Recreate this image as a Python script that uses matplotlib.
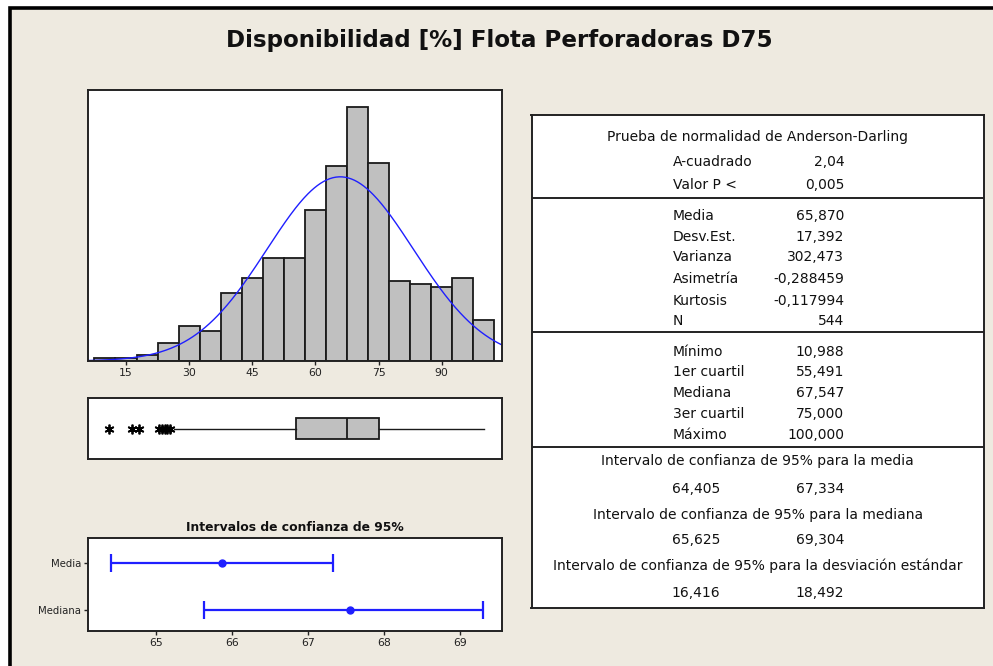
import matplotlib
matplotlib.use("Agg")
import numpy as np
import matplotlib.pyplot as plt
from matplotlib.patches import Rectangle

BG = "#EEEAE0"
W, H = 993, 666

# --- data ---
bin_centers = [10, 15, 20, 25, 30, 35, 40, 45, 50, 55, 60, 65, 70, 75, 80, 85, 90, 95, 100]
bin_counts = [1, 1, 2, 6, 12, 10, 23, 28, 35, 35, 51, 66, 86, 67, 27, 26, 25, 28, 14]
bin_width = 5
hist_ticks = [15, 30, 45, 60, 75, 90]

mean, std, n = 65.870, 17.392, 544
q1, median, q3 = 55.491, 67.547, 75.000
whisker_lo, whisker_hi = 26.5, 100.0
outliers = [10.988, 16.4, 18.2, 22.9, 23.6, 24.2, 24.8, 25.5]

ci_labels = ["Media", "Mediana"]
ci_center = [65.870, 67.547]
ci_low = [64.405, 65.625]
ci_high = [67.334, 69.304]
ci_ticks = [65, 66, 67, 68, 69]

ad_rows = [("A-cuadrado", "2,04"), ("Valor P <", "0,005")]
moment_rows = [("Media", "65,870"), ("Desv.Est.", "17,392"), ("Varianza", "302,473"),
               ("Asimetría", "-0,288459"), ("Kurtosis", "-0,117994"), ("N", "544")]
quart_rows = [("Mínimo", "10,988"), ("1er cuartil", "55,491"), ("Mediana", "67,547"),
              ("3er cuartil", "75,000"), ("Máximo", "100,000")]
ci_rows = [("Intervalo de confianza de 95% para la media", "64,405", "67,334"),
           ("Intervalo de confianza de 95% para la mediana", "65,625", "69,304"),
           ("Intervalo de confianza de 95% para la desviación estándar", "16,416", "18,492")]


def px_axes(l, t, r, b):
    return [l / W, 1 - b / H, (r - l) / W, (b - t) / H]


def style_spines(ax):
    for s in ax.spines.values():
        s.set_linewidth(1.4)
        s.set_color("#222222")


fig = plt.figure(figsize=(W / 100, H / 100), dpi=100)
fig.patch.set_facecolor("white")
fig.add_artist(Rectangle((9.5 / W, -0.1), 1.2, 1.1 - 8.5 / H, transform=fig.transFigure,
                         facecolor=BG, edgecolor="black", lw=2.6, zorder=-5))

fig.text(0.503, 1 - 40 / H, "Disponibilidad [%] Flota Perforadoras D75",
         ha="center", va="center", fontsize=16.6, fontweight="bold", color="#111111")

# --- histogram with fitted normal ---
xlo, xhi = 5.97, 104.3
ax = fig.add_axes(px_axes(88, 90, 502, 361))
ax.bar(bin_centers, bin_counts, width=bin_width, color="#C0C0C0", edgecolor="#1a1a1a", lw=1.3)
xs = np.linspace(xlo, xhi, 400)
pdf = n * bin_width * np.exp(-0.5 * ((xs - mean) / std) ** 2) / (std * np.sqrt(2 * np.pi))
ax.plot(xs, pdf, color="#1f1fff", lw=1.0)
ax.set_xlim(xlo, xhi)
ax.set_ylim(0, 91.8)
ax.set_xticks(hist_ticks)
ax.set_yticks([])
ax.tick_params(axis="x", labelsize=7.8, length=3, width=1, colors="#222222", pad=2)
style_spines(ax)

# --- boxplot ---
axb = fig.add_axes(px_axes(88, 398, 502, 459))
stats = [dict(med=median, q1=q1, q3=q3, whislo=whisker_lo, whishi=whisker_hi, fliers=outliers)]
axb.bxp(stats, positions=[0.5], widths=0.36, orientation="horizontal", showcaps=False,
        patch_artist=True,
        boxprops=dict(facecolor="#C0C0C0", edgecolor="#1a1a1a", lw=1.3),
        medianprops=dict(color="#1a1a1a", lw=1.3),
        whiskerprops=dict(color="#1a1a1a", lw=1.0),
        flierprops=dict(marker=(6, 2, 0), markersize=7, markeredgewidth=1.3,
                        markerfacecolor="black", markeredgecolor="black"))
axb.set_xlim(xlo, xhi)
axb.set_ylim(0, 1)
axb.set_xticks([])
axb.set_yticks([])
style_spines(axb)

# --- confidence intervals ---
axc = fig.add_axes(px_axes(88, 538, 502, 631))
ypos = [1, 0]
for y, c, lo, hi in zip(ypos, ci_center, ci_low, ci_high):
    axc.errorbar([c], [y], xerr=[[c - lo], [hi - c]], fmt="o", color="#1f1fff", ms=5,
                 lw=1.6, capsize=6.8, capthick=1.6)
axc.set_xlim(64.105, 69.553)
axc.set_ylim(-0.46, 1.54)
axc.set_xticks(ci_ticks)
axc.set_yticks(ypos)
axc.set_yticklabels(ci_labels)
axc.tick_params(axis="x", labelsize=7.8, length=3, width=1, colors="#222222", pad=2)
axc.tick_params(axis="y", labelsize=7.3, length=3, width=1, colors="#222222", pad=2)
axc.set_title("Intervalos de confianza de 95%", fontsize=8.9, fontweight="bold",
              color="#111111", pad=5)
style_spines(axc)

# --- summary table ---
axt = fig.add_axes(px_axes(531.5, 115, 984, 608))
axt.set_xlim(531.5, 984)
axt.set_ylim(608, 115)
axt.set_xticks([])
axt.set_yticks([])
style_spines(axt)
for yy in (197.7, 331.7, 446.7):
    axt.axhline(yy, color="#222222", lw=1.4)

fs = 10
tc = "#111111"
cx = 757.75
lab_x, val_x = 672.7, 844.3
axt.text(cx, 136.7, "Prueba de normalidad de Anderson-Darling", ha="center", va="center",
         fontsize=fs, color=tc)
for (lab, val), yy in zip(ad_rows, [162.3, 185]):
    axt.text(lab_x, yy, lab, ha="left", va="center", fontsize=fs, color=tc)
    axt.text(val_x, yy, val, ha="right", va="center", fontsize=fs, color=tc)
for (lab, val), yy in zip(moment_rows, [216, 236.7, 257.3, 279.3, 300.7, 320.7]):
    axt.text(lab_x, yy, lab, ha="left", va="center", fontsize=fs, color=tc)
    axt.text(val_x, yy, val, ha="right", va="center", fontsize=fs, color=tc)
for (lab, val), yy in zip(quart_rows, [352.3, 371.7, 393.3, 414, 435]):
    axt.text(lab_x, yy, lab, ha="left", va="center", fontsize=fs, color=tc)
    axt.text(val_x, yy, val, ha="right", va="center", fontsize=fs, color=tc)
for (head, lo, hi), (yh, yv) in zip(ci_rows, [(460.7, 489), (515, 540), (566, 593.3)]):
    axt.text(cx, yh, head, ha="center", va="center", fontsize=fs, color=tc)
    axt.text(695.7, yv, lo, ha="center", va="center", fontsize=fs, color=tc)
    axt.text(val_x, yv, hi, ha="right", va="center", fontsize=fs, color=tc)

fig.savefig("out.png", dpi=100, facecolor=fig.get_facecolor())
plt.close(fig)
